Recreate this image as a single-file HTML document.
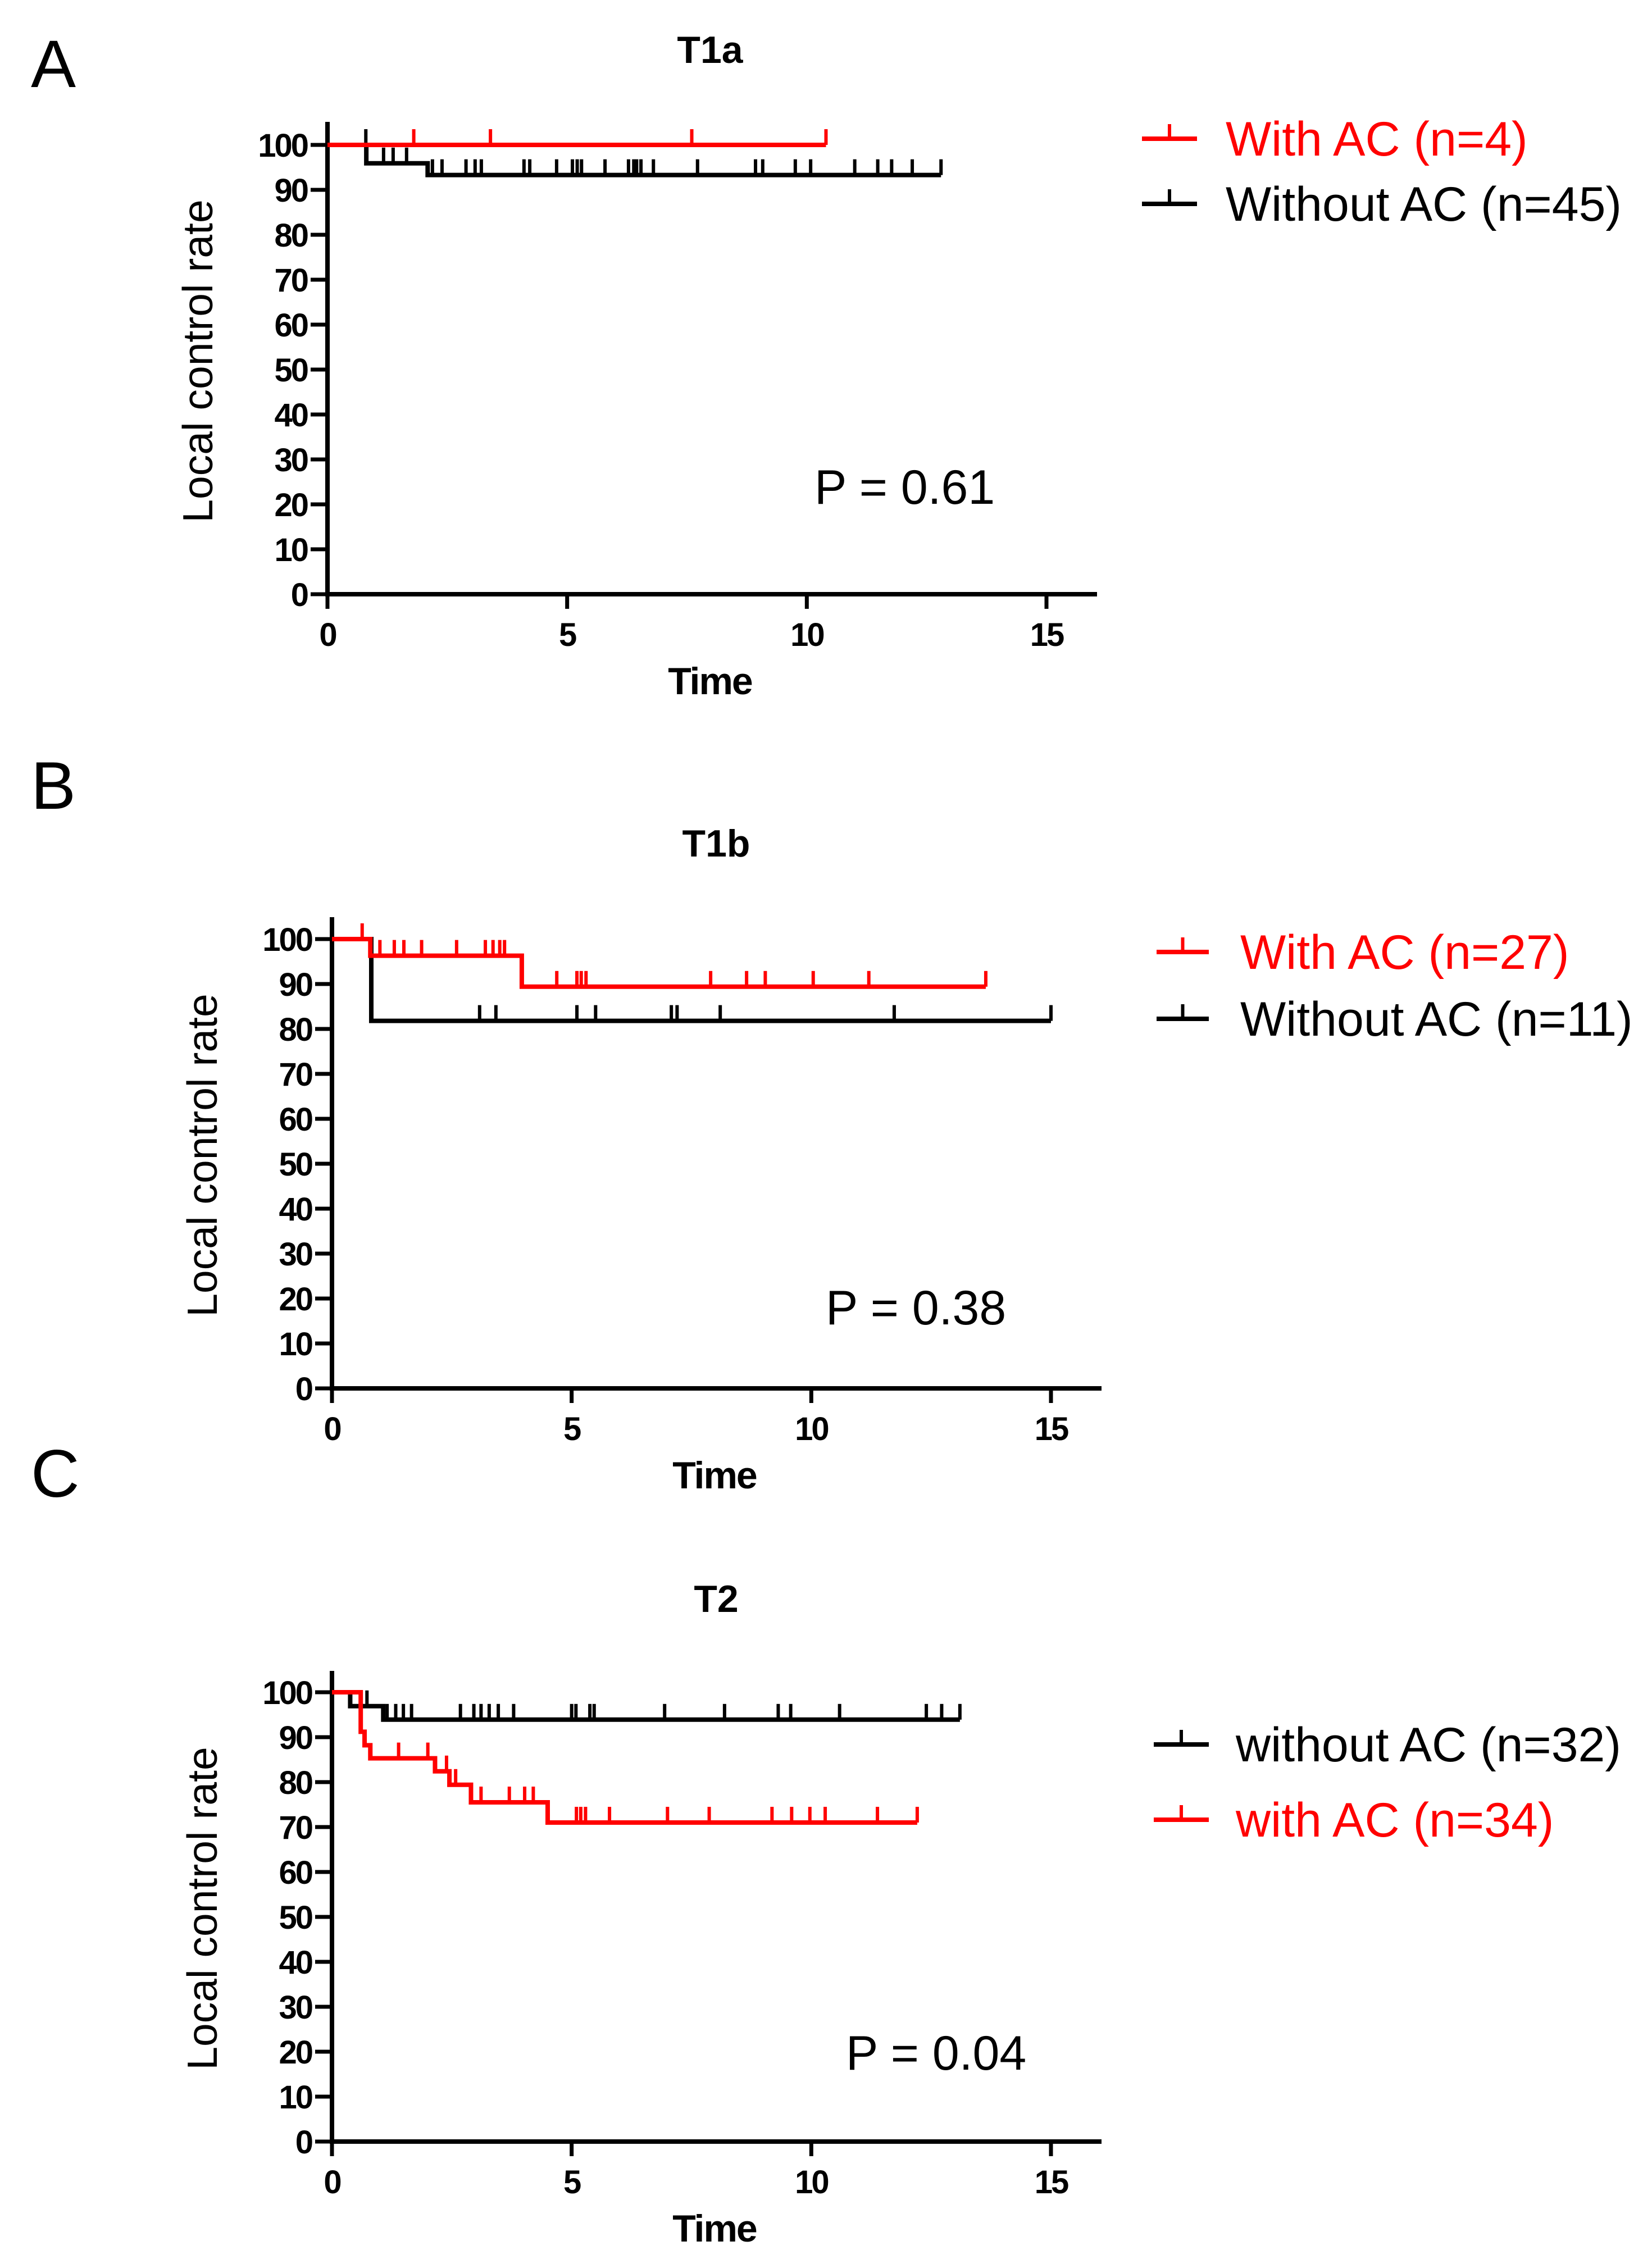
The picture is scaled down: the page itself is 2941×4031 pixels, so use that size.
<!DOCTYPE html>
<html><head><meta charset="utf-8">
<style>
html,body{margin:0;padding:0;background:#fff;}
svg{display:block;}
text{font-family:"Liberation Sans",Arial,sans-serif;}
</style></head>
<body>
<svg id="fig" width="2941" height="4031" viewBox="0 0 2941 4031" xmlns="http://www.w3.org/2000/svg"></svg>
<script>
// ---- Panel A (T1a) data ----
const aRedSteps = [[0,100]];
const aRedEnd = 10.4;
const aRedCens = [1.8, 3.4, 7.6, 10.4];
const aBlkSteps = [[0,100],[0.81,95.9],[2.09,93.3]];
const aBlkEnd = 12.8;
const aBlkCens100 = [0.8];
const aBlkCens = [1.17,1.37,1.65,2.19,2.39,2.89,3.08,3.21,4.1,4.22,4.78,5.11,5.21,5.3,5.79,6.28,6.39,6.45,6.54,6.8,7.72,8.93,9.08,9.76,10.08,11.0,11.48,11.77,12.2,12.8];
// ---- Panel B (T1b) data ----
const bRedSteps = [[0,100],[0.8,96.3],[3.96,89.4]];
const bRedEnd = 13.64;
const bRedCens = [0.63,1.0,1.3,1.5,1.87,2.6,3.2,3.36,3.5,3.6,4.69,5.11,5.2,5.3,7.9,8.65,9.04,10.04,11.2,13.64];
const bBlkSteps = [[0,100],[0.82,81.8]];
const bBlkEnd = 15.0;
const bBlkCens = [3.08,3.42,5.11,5.5,7.08,7.2,8.1,11.73,15.0];
// ---- Panel C (T2) data ----
const cBlkSteps = [[0,100],[0.38,96.9],[1.07,93.9]];
const cBlkEnd = 13.1;
const cBlkCens = [0.73,1.15,1.33,1.49,1.66,2.68,2.96,3.11,3.28,3.47,3.79,5.0,5.09,5.38,5.47,6.94,8.19,9.31,9.57,10.59,12.4,12.72,13.1];
const cRedSteps = [[0,100],[0.6,91.2],[0.68,88.2],[0.8,85.3],[2.15,82.4],[2.45,79.4],[2.9,75.5],[4.5,71.0]];
const cRedEnd = 12.21;
const cRedCens = [1.39,2.0,2.39,2.58,3.11,3.7,4.02,4.2,5.1,5.19,5.29,5.79,7.0,7.87,9.18,9.59,9.97,10.29,11.38,12.21];
// ---- shared axis labels ----
const yTicks = [0,10,20,30,40,50,60,70,80,90,100];
const xTicks = [0,5,10,15];

const NS = "http://www.w3.org/2000/svg";
const svg = document.getElementById('fig');
function el(tag, attrs, parent){
  const e = document.createElementNS(NS, tag);
  for (const k in attrs) e.setAttribute(k, attrs[k]);
  (parent||svg).appendChild(e);
  return e;
}
function txt(s, attrs, parent){ const t = el('text', attrs, parent); t.textContent = s; return t; }

function survAt(steps, t){ let v = steps[0][1]; for (const s of steps) if (s[0] <= t) v = s[1]; return v; }

function panel(cfg){
  const g = el('g', {});
  
  
  const xs = t => cfg.x0 + t * (cfg.x15 - cfg.x0) / 15;
  const ys = v => cfg.y0 + (cfg.y100 - cfg.y0) * v / 100;
  const L = txt(cfg.letter, {x:55, y:cfg.letterY, 'font-size':120, fill:'#000'}, g);
  
  
  const T = txt(cfg.title, {x:cfg.titleX, y:cfg.titleY, 'font-size':68, 'font-weight':'bold', 'text-anchor':'middle'}, g);
  
  
  const ax = el('path', {d:`M${cfg.x0} ${cfg.top} V${cfg.y0} H${cfg.xEnd}`, stroke:'#000', 'stroke-width':8, fill:'none'}, g);
  
  
  yTicks.forEach(v => {
    el('line', {x1:cfg.x0-30, x2:cfg.x0, y1:ys(v), y2:ys(v), stroke:'#000', 'stroke-width':7}, g);
    const t = txt(String(v), {x:cfg.x0-36, y:ys(v)+21, 'font-size':58, 'font-weight':'bold', 'text-anchor':'end', 'letter-spacing':'-3'}, g);
    
    
  });
  xTicks.forEach(v => {
    el('line', {x1:xs(v), x2:xs(v), y1:cfg.y0, y2:cfg.y0+26, stroke:'#000', 'stroke-width':7}, g);
    const t = txt(String(v), {x:xs(v), y:cfg.y0+92, 'font-size':58, 'font-weight':'bold', 'text-anchor':'middle', 'letter-spacing':'-3'}, g);
    
    
  });
  const yl = txt('Local control rate', {x:0, y:0, 'font-size':75, 'text-anchor':'middle', transform:`translate(${cfg.x0-205},${(cfg.y0+cfg.y100)/2 - 15}) rotate(-90)`}, g);
  
  
  const xl = txt('Time', {x:(cfg.x0+cfg.x15)/2 + 41, y:cfg.y0+178, 'font-size':68, 'font-weight':'bold', 'text-anchor':'middle', 'letter-spacing':'-2'}, g);
  
  
  const p = txt(cfg.p, {x:cfg.pX, y:cfg.pY, 'font-size':86}, g);
  
  
  cfg.series.forEach(s => {
    let d = `M${xs(0)} ${ys(s.steps[0][1])}`;
    for (let i = 1; i < s.steps.length; i++){
      d += ` H${xs(s.steps[i][0])} V${ys(s.steps[i][1])}`;
    }
    d += ` H${xs(s.end)}`;
    const path = el('path', {d:d, stroke:s.color, 'stroke-width':8, fill:'none'}, g);
    
    
    s.cens.forEach(t => {
      const yv = ys(survAt(s.steps, t));
      const c = el('line', {x1:xs(t), x2:xs(t), y1:yv, y2:yv-28, stroke:s.color, 'stroke-width':6}, g);
      
      
    });
  });
  cfg.legend.forEach(l => {
    const lg = el('g', {}, g);
    
    
    el('line', {x1:cfg.legX1, x2:cfg.legX2, y1:l.y, y2:l.y, stroke:l.color, 'stroke-width':8}, lg);
    el('line', {x1:(cfg.legX1+cfg.legX2)/2, x2:(cfg.legX1+cfg.legX2)/2, y1:l.y, y2:l.y-26, stroke:l.color, 'stroke-width':6}, lg);
    txt(l.label, {x:cfg.legTX, y:l.y+30, 'font-size':86, fill:l.color}, lg);
  });
}

panel({name:'panel-a-t1a', letter:'A', letterY:155, title:'T1a', titleX:1264, titleY:112,
  x0:583, x15:1863, xEnd:1953, y100:258, y0:1058, top:217,
  p:'P = 0.61', pX:1450, pY:897,
  series:[
    {name:'without-ac', color:'#000', steps:aBlkSteps, end:aBlkEnd, cens:aBlkCens100.concat(aBlkCens)},
    {name:'with-ac', color:'#ff0000', steps:aRedSteps, end:aRedEnd, cens:aRedCens}],
  legX1:2033, legX2:2131, legTX:2182,
  legend:[{y:247, color:'#ff0000', label:'With AC (n=4)'},{y:363, color:'#000', label:'Without AC (n=45)'}]});

panel({name:'panel-b-t1b', letter:'B', letterY:1440, title:'T1b', titleX:1275, titleY:1525,
  x0:591, x15:1871, xEnd:1961, y100:1672, y0:2472, top:1633,
  p:'P = 0.38', pX:1470, pY:2358,
  series:[
    {name:'without-ac', color:'#000', steps:bBlkSteps, end:bBlkEnd, cens:bBlkCens},
    {name:'with-ac', color:'#ff0000', steps:bRedSteps, end:bRedEnd, cens:bRedCens}],
  legX1:2059, legX2:2152, legTX:2208,
  legend:[{y:1695, color:'#ff0000', label:'With AC (n=27)'},{y:1814, color:'#000', label:'Without AC (n=11)'}]});

panel({name:'panel-c-t2', letter:'C', letterY:2665, title:'T2', titleX:1275, titleY:2870,
  x0:591, x15:1871, xEnd:1961, y100:3013, y0:3813, top:2975,
  p:'P = 0.04', pX:1506, pY:3685,
  series:[
    {name:'without-ac', color:'#000', steps:cBlkSteps, end:cBlkEnd, cens:cBlkCens},
    {name:'with-ac', color:'#ff0000', steps:cRedSteps, end:cRedEnd, cens:cRedCens}],
  legX1:2054, legX2:2152, legTX:2200,
  legend:[{y:3106, color:'#000', label:'without AC (n=32)'},{y:3240, color:'#ff0000', label:'with AC (n=34)'}]});
</script>
</body></html>
